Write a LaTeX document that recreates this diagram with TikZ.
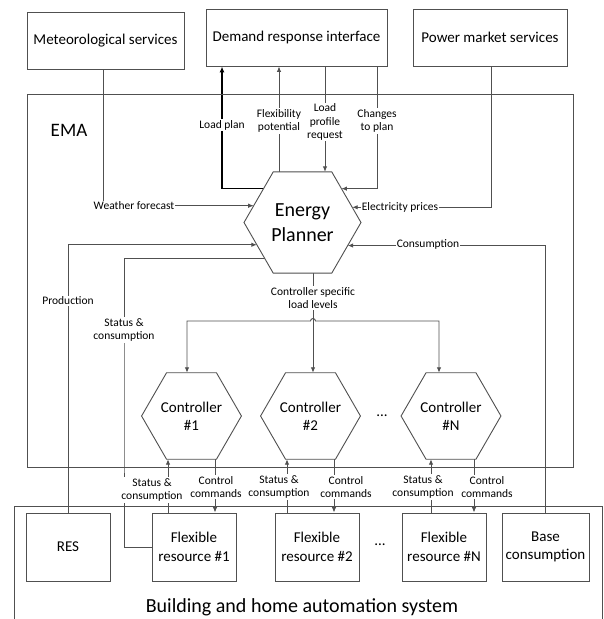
\documentclass[tikz,border=0pt]{standalone}
\usepackage{fontspec}
\setmainfont{Carlito}
\usetikzlibrary{shapes.geometric,arrows.meta,calc}
\pgfdeclarelayer{wires}
\pgfsetlayers{wires,main}
\definecolor{linecol}{RGB}{80,80,80}
\begin{document}
\begin{tikzpicture}[x=1pt,y=-1pt,
  wire/.style={draw=linecol,line width=0.9pt},
  feed/.style={wire,-{Latex[length=5.5pt,width=4.5pt]}},
  feedboth/.style={wire,{Latex[length=5.5pt,width=4.5pt]}-{Latex[length=5.5pt,width=4.5pt]}},
  plan/.style={draw=black,line width=1.4pt,-{Latex[length=6pt,width=5pt]}},
  box/.style={draw=linecol,line width=0.9pt,fill=white,inner sep=0pt,align=center,
    font=\fontsize{15}{18.5}\selectfont},
  hexa/.style={regular polygon,regular polygon sides=6,draw=linecol,line width=0.9pt,
    fill=white,inner sep=0pt,outer sep=0pt,align=center},
  tag/.style={fill=white,inner sep=1pt,align=center,font=\fontsize{11.5}{13.5}\selectfont},
]
\useasboundingbox (0,0) rectangle (604,619);

% external services
\node[box,minimum width=157pt,minimum height=57pt] (met) at (105.5,40.5) {Meteorological services};
\node[box,minimum width=181pt,minimum height=57pt] (dri) at (296.5,37.5) {Demand response interface};
\node[box,minimum width=154pt,minimum height=57pt] (pms) at (490,37.5) {Power market services};

% EMA frame
\node[draw=linecol,line width=0.9pt,minimum width=546pt,minimum height=373pt,inner sep=0pt] (ema) at (300,280.5) {};
\node[font=\fontsize{19}{22}\selectfont] (emalbl) at (69,130) {EMA};

% planner and controllers
\node[hexa,minimum size=117pt,font=\fontsize{20}{25}\selectfont] (P) at (302.5,222.5) {Energy\\Planner};
\node[hexa,minimum size=95pt,font=\fontsize{15}{18}\selectfont] (c1) at (191.5,416) {Controller\\\#1};
\node[hexa,minimum size=95pt,font=\fontsize{15}{18}\selectfont] (c2) at (310.5,416) {Controller\\\#2};
\node[hexa,minimum size=95pt,font=\fontsize{15}{18}\selectfont] (cN) at (451,416) {Controller\\\#N};
\node[font=\fontsize{15}{18}\selectfont] (cdots) at (382,416) {...};

% building and home automation system
\draw[wire] (14,619) |- (602,506) -- (602,619);
\node[box,minimum width=84pt,minimum height=68pt] (res) at (68,547) {RES};
\node[box,minimum width=84pt,minimum height=68pt] (fr1) at (194,547) {Flexible\\resource \#1};
\node[box,minimum width=84pt,minimum height=68pt] (fr2) at (317,547) {Flexible\\resource \#2};
\node[font=\fontsize{15}{18}\selectfont] (fdots) at (380,545) {...};
\node[box,minimum width=84pt,minimum height=68pt] (frN) at (444,547) {Flexible\\resource \#N};
\node[box,minimum width=87pt,minimum height=68pt] (base) at (545.5,547) {Base\\consumption};
\node[font=\fontsize{20}{24}\selectfont] (bhas) at (302,607) {Building and home automation system};

% connector labels
\node[tag] (wf) at (134,206) {Weather forecast};
\node[tag] (lp) at (222,125) {Load plan};
\node[tag] (fp) at (279,121) {Flexibility\\potential};
\node[tag] (lr) at (325,122) {Load\\profile\\request};
\node[tag] (cp) at (377,121) {Changes\\to plan};
\node[tag] (ep) at (400,207) {Electricity prices};
\node[tag] (pr) at (68,301) {Production};
\node[tag] (sc) at (124,330) {Status \&\\consumption};
\node[tag] (co) at (428,244) {Consumption};
\node[tag] (cs) at (313,298) {Controller specific\\load levels};
\node[tag] (s1) at (152,490) {Status \&\\consumption};
\node[tag] (k1) at (216,487) {Control\\commands};
\node[tag] (s2) at (279,487) {Status \&\\consumption};
\node[tag] (k2) at (346,487) {Control\\commands};
\node[tag] (sN) at (423,487) {Status \&\\consumption};
\node[tag] (kN) at (487,487) {Control\\commands};

% routing columns
\coordinate (xw) at (103,0);
\coordinate (xlp) at (222,0);
\coordinate (xfp) at (279,0);
\coordinate (xlr) at (325,0);
\coordinate (xcp) at (377,0);
\coordinate (xep) at (491,0);
\coordinate (xs) at (124,400);
\coordinate (jl) at (187,321);
\coordinate (jc) at (313,321);
\coordinate (jr) at (439,321);
\coordinate (xs1) at (168,0);
\coordinate (xk1) at (215,0);
\coordinate (xs2) at (287,0);
\coordinate (xk2) at (334,0);
\coordinate (xsN) at (431,0);
\coordinate (xkN) at (474,0);

\begin{pgfonlayer}{wires}
  % inputs and outputs of the planner
  \draw[feed] (met.south -| xw) |- (P.161.4);
  \draw[plan] (P.139.5) -| (dri.south -| xlp);
  \draw[feed] (P.north -| xfp) -- (dri.south -| xfp);
  \draw[feed] (dri.south -| xlr) -- (P.north -| xlr);
  \draw[feed] (dri.south -| xcp) |- (P.41.8);
  \draw[feed] (pms.south -| xep) |- (P.17.4);
  \draw[feed] (res.north) |- (P.206.3);
  \draw[wire] (fr1.west) -| (xs) |- (P.224.3);
  \draw[feed] (base.north) |- (P.333.7);

  % load levels to the controllers
  \draw[wire] (P.south -| cs) -- (cs.north);
  \draw[feed] (cs.south) -- (c2.north -| cs);
  \draw[feedboth] (c1.north -| jl) -- (jl) -- ($(jc)+(-2.5,0)$)
    arc[start angle=180,end angle=360,radius=2.5] -- (jr) -- (cN.north -| jr);

  % controllers and flexible resources
  \draw[feed] (fr1.north -| xs1) -- (c1.south -| xs1);
  \draw[feed] (c1.south -| xk1) -- (fr1.north -| xk1);
  \draw[feed] (fr2.north -| xs2) -- (c2.south -| xs2);
  \draw[feed] (c2.south -| xk2) -- (fr2.north -| xk2);
  \draw[feed] (frN.north -| xsN) -- (cN.south -| xsN);
  \draw[feed] (cN.south -| xkN) -- (frN.north -| xkN);
\end{pgfonlayer}
\end{tikzpicture}
\end{document}
